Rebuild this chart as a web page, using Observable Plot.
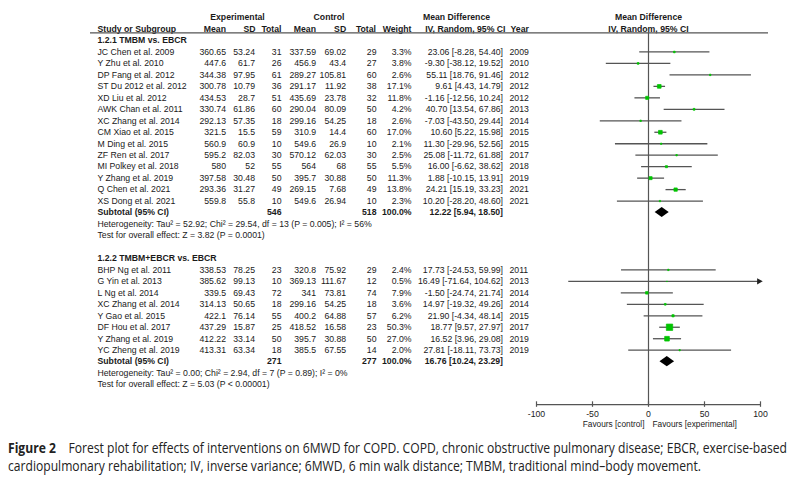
<!DOCTYPE html>
<html><head><meta charset="utf-8">
<script src="https://cdn.jsdelivr.net/npm/d3@7"></script>
<script src="https://cdn.jsdelivr.net/npm/@observablehq/plot@0.6"></script>
<style>
body{margin:0;background:#fff;width:800px;height:480px;overflow:hidden;position:relative;}
#chart{position:absolute;left:0;top:0;}
#caption{position:absolute;left:8px;top:439px;font-family:"Open Sans",sans-serif;font-size:14px;line-height:18px;color:#222;white-space:nowrap;transform-origin:0 0;}
#caption span{display:inline-block;}
</style></head><body>
<div id="chart"></div>
<div id="caption"><div><span id="cap1"><b>Figure 2</b>&nbsp;&nbsp;&nbsp; Forest plot for effects of interventions on 6MWD for COPD. COPD, chronic obstructive pulmonary disease; EBCR, exercise-based</span></div><div><span id="cap2">cardiopulmonary rehabilitation; IV, inverse variance; 6MWD, 6 min walk distance; TMBM, traditional mind–body movement.</span></div></div>
<script>
// ---- data: subgroup 1.2.1 ----
const names1 = ["JC Chen et al. 2009","Y Zhu et al. 2010","DP Fang et al. 2012","ST Du 2012 et al. 2012","XD Liu et al. 2012","AWK Chan et al. 2011","XC Zhang et al. 2014","CM Xiao et al. 2015","M Ding et al. 2015","ZF Ren et al. 2017","MI Polkey et al. 2018","Y Zhang et al. 2019","Q Chen et al. 2021","XS Dong et al. 2021"];
const expMean1 = ["360.65","447.6","344.38","300.78","434.53","330.74","292.13","321.5","560.9","595.2","580","397.58","293.36","559.8"];
const expSD1 = ["53.24","61.7","97.95","10.79","28.7","61.86","57.35","15.5","60.9","82.03","52","30.48","31.27","55.8"];
const expN1 = [31,26,61,36,51,60,18,59,10,30,55,50,49,10];
const ctlMean1 = ["337.59","456.9","289.27","291.17","435.69","290.04","299.16","310.9","549.6","570.12","564","395.7","269.15","549.6"];
const ctlSD1 = ["69.02","43.4","105.81","11.92","23.78","80.09","54.25","14.4","26.9","62.03","68","30.88","7.68","26.94"];
const ctlN1 = [29,27,60,38,32,50,18,60,10,30,55,50,49,10];
const weight1 = [3.3,3.8,2.6,17.1,11.8,4.2,2.6,17.0,2.1,2.5,5.5,11.3,13.8,2.3];
const md1 = [23.06,-9.30,55.11,9.61,-1.16,40.70,-7.03,10.60,11.30,25.08,16.00,1.88,24.21,10.20];
const lo1 = [-8.28,-38.12,18.76,4.43,-12.56,13.54,-43.50,5.22,-29.96,-11.72,-6.62,-10.15,15.19,-28.20];
const hi1 = [54.40,19.52,91.46,14.79,10.24,67.86,29.44,15.98,52.56,61.88,38.62,13.91,33.23,48.60];
const year1 = ["2009","2010","2012","2012","2012","2013","2014","2015","2015","2017","2018","2019","2021","2021"];
// ---- data: subgroup 1.2.2 ----
const names2 = ["BHP Ng et al. 2011","G Yin et al. 2013","L Ng et al. 2014","XC Zhang et al. 2014","Y Gao et al. 2015","DF Hou et al. 2017","Y Zhang et al. 2019","YC Zheng et al. 2019"];
const expMean2 = ["338.53","385.62","339.5","314.13","422.1","437.29","412.22","413.31"];
const expSD2 = ["78.25","99.13","69.43","50.65","76.14","15.87","33.14","63.34"];
const expN2 = [23,10,72,18,55,25,50,18];
const ctlMean2 = ["320.8","369.13","341","299.16","400.2","418.52","395.7","385.5"];
const ctlSD2 = ["75.92","111.67","73.81","54.25","64.88","16.58","30.88","67.55"];
const ctlN2 = [29,12,74,18,57,23,50,14];
const weight2 = [2.4,0.5,7.9,3.6,6.2,50.3,27.0,2.0];
const md2 = [17.73,16.49,-1.50,14.97,21.90,18.77,16.52,27.81];
const lo2 = [-24.53,-71.64,-24.74,-19.32,-4.34,9.57,3.96,-18.11];
const hi2 = [59.99,104.62,21.74,49.26,48.14,27.97,29.08,73.73];
const year2 = ["2011","2013","2014","2014","2015","2017","2019","2019"];
// ---- subtotals ----
const subTitles = ["1.2.1 TMBM vs. EBCR","1.2.2 TMBM+EBCR vs. EBCR"];
const subExpN = [546,271];
const subCtlN = [518,277];
const subMD = [12.22,16.76];
const subLo = [5.94,10.24];
const subHi = [18.50,23.29];
const hetTexts = ["Heterogeneity: Tau² = 52.92; Chi² = 29.54, df = 13 (P = 0.005); I² = 56%","Heterogeneity: Tau² = 0.00; Chi² = 2.94, df = 7 (P = 0.89); I² = 0%"];
const testTexts = ["Test for overall effect: Z = 3.82 (P = 0.0001)","Test for overall effect: Z = 5.03 (P < 0.00001)"];
const xTicks = [-100,-50,0,50,100];
const favours = ["Favours [control]","Favours [experimental]"];

// ---- build rows ----
const groupsIn = [
  [names1,expMean1,expSD1,expN1,ctlMean1,ctlSD1,ctlN1,weight1,md1,lo1,hi1,year1],
  [names2,expMean2,expSD2,expN2,ctlMean2,ctlSD2,ctlN2,weight2,md2,lo2,hi2,year2]
];
const studies = [], headers = [], subs = [], notes = [];
let r = 0;
groupsIn.forEach((g, gi) => {
  const [nm,em,es,en,cm,cs,cn,w,md,lo,hi,yr] = g;
  headers.push({row: r, text: subTitles[gi]});
  nm.forEach((n, i) => studies.push({row: r+1+i, name: n, em: em[i], es: es[i], en: String(en[i]), cm: cm[i], cs: cs[i], cn: String(cn[i]), w: w[i], md: md[i], lo: lo[i], hi: hi[i], yr: yr[i]}));
  const sr = r + nm.length + 1;
  subs.push({row: sr, g: gi, en: String(subExpN[gi]), cn: String(subCtlN[gi]), md: subMD[gi], lo: subLo[gi], hi: subHi[gi]});
  notes.push({row: sr+1, text: hetTexts[gi]});
  notes.push({row: sr+2, text: testTexts[gi]});
  r = sr + 4;
});
const lastRow = r - 2;
const axisRow = lastRow + 1.74;
const lineRow = -0.67;
const ciText = d => `${d.md.toFixed(2)} [${d.lo.toFixed(2)}, ${d.hi.toFixed(2)}]`;
const xMin = xTicks[0], xMax = xTicks[xTicks.length-1];
const diamond = subs.flatMap(s => [
  {g: s.g, x: s.lo, y1: s.row, y2: s.row},
  {g: s.g, x: s.md, y1: s.row-0.44, y2: s.row+0.44},
  {g: s.g, x: s.hi, y1: s.row, y2: s.row}
]);
const clipped = studies.filter(d => d.hi > xMax || d.lo < xMin);

// ---- layout ----
const ML = 90, MR = 32, FS = 8.7, INK = "#1a1a1a", LN = "#555";
const fam = "'Liberation Sans', Arimo, Arial, sans-serif";
const T = (data, o) => Plot.text(data, {frameAnchor: "left", fontSize: FS, fill: INK, fontFamily: fam, ...o, dx: o.px - ML});
const col = (key, px, anchor="end", extra={}) => T(studies, {y: "row", text: key, px, textAnchor: anchor, ...extra});
const H = (label, px, row, anchor) => T([label], {y: () => row, text: d => d, px, textAnchor: anchor, fontWeight: "bold"});

const chart = Plot.plot({
  width: 800, height: 432,
  marginLeft: ML, marginRight: MR, marginTop: 0, marginBottom: 0,
  x: {domain: [xMin, xMax], range: [536, 760], axis: null},
  y: {domain: [0, 30], range: [40, 40 + 30*11.47], axis: null},
  r: {type: "sqrt", domain: [0, 50.3], range: [0, 3.6]},
  style: {fontFamily: fam, background: "#fff"},
  marks: [
    // header rows
    H("Experimental", 237, -2, "middle"),
    H("Control", 328.5, -2, "middle"),
    H("Mean Difference", 456, -2, "middle"),
    H("Study or Subgroup", 97, -1, "start"),
    H("Mean", 225.5, -1, "end"),
    H("SD", 255, -1, "end"),
    H("Total", 281, -1, "end"),
    H("Mean", 315.5, -1, "end"),
    H("SD", 345.7, -1, "end"),
    H("Total", 375.5, -1, "end"),
    H("Weight", 411, -1, "end"),
    H("IV, Random, 95% CI", 505, -1, "end"),
    H("Year", 510, -1, "start"),
    Plot.text(["Mean Difference"], {x: () => 0, y: () => -2, text: d => d, fontSize: FS, fontWeight: "bold", fill: INK}),
    Plot.text(["IV, Random, 95% CI"], {x: () => 0, y: () => -1, text: d => d, fontSize: FS, fontWeight: "bold", fill: INK}),
    Plot.ruleY([lineRow], {stroke: LN, strokeWidth: 1.2}),
    // subgroup headers
    T(headers, {y: "row", text: "text", px: 97, textAnchor: "start", fontWeight: "bold"}),
    // study columns
    col("name", 97, "start"),
    col("em", 225.5),
    col("es", 254.5),
    col("en", 281),
    col("cm", 315.5),
    col("cs", 345.7),
    col("cn", 376),
    col(d => d.w.toFixed(1) + "%", 411),
    col(ciText, 502.5),
    col("yr", 509, "start"),
    // subtotals
    T(subs, {y: "row", text: () => "Subtotal (95% CI)", px: 97, textAnchor: "start", fontWeight: "bold"}),
    T(subs, {y: "row", text: "en", px: 281, textAnchor: "end", fontWeight: "bold"}),
    T(subs, {y: "row", text: "cn", px: 376, textAnchor: "end", fontWeight: "bold"}),
    T(subs, {y: "row", text: () => "100.0%", px: 411, textAnchor: "end", fontWeight: "bold"}),
    T(subs, {y: "row", text: ciText, px: 502.5, textAnchor: "end", fontWeight: "bold"}),
    T(notes, {y: "row", text: "text", px: 97, textAnchor: "start"}),
    // forest
    Plot.ruleX([0], {y1: () => lineRow, y2: () => axisRow, stroke: LN, strokeWidth: 1.2}),
    Plot.link(studies, {x1: d => Math.max(d.lo, xMin), x2: d => Math.min(d.hi, xMax), y1: "row", y2: "row", stroke: LN, strokeWidth: 1.3}),
    Plot.dot(clipped.filter(d => d.hi > xMax), {x: () => xMax, y: "row", symbol: "triangle", rotate: 90, r: 2.4, fill: "#222", dx: -1.5}),
    Plot.dot(studies, {x: "md", y: "row", r: "w", symbol: "square", fill: "#00c400", stroke: "#00c400", strokeWidth: 0.7}),
    Plot.areaY(diamond, {x: "x", y1: "y1", y2: "y2", z: "g", fill: "#000"}),
    // axis
    Plot.ruleY([axisRow], {x1: () => xMin, x2: () => xMax, stroke: LN, strokeWidth: 1.2}),
    Plot.ruleX(xTicks, {x: d => d, y1: () => axisRow - 0.24, y2: () => axisRow + 0.24, stroke: LN, strokeWidth: 1.2}),
    Plot.text(xTicks, {x: d => d, y: () => axisRow, dy: 9.5, text: d => String(d), fontSize: FS, fill: INK}),
    Plot.text([favours[0]], {x: () => 0, y: () => axisRow, dy: 20, dx: -4, text: d => d, textAnchor: "end", fontSize: 8.3, fill: INK}),
    Plot.text([favours[1]], {x: () => 0, y: () => axisRow, dy: 20, dx: 4, text: d => d, textAnchor: "start", fontSize: 8.3, fill: INK})
  ]
});
document.getElementById("chart").appendChild(chart);

// fit caption width to reference line length
const cap = document.getElementById("caption");
const w1 = document.getElementById("cap1").getBoundingClientRect().width;
cap.style.transform = `scaleX(${779 / w1})`;
</script></body></html>
